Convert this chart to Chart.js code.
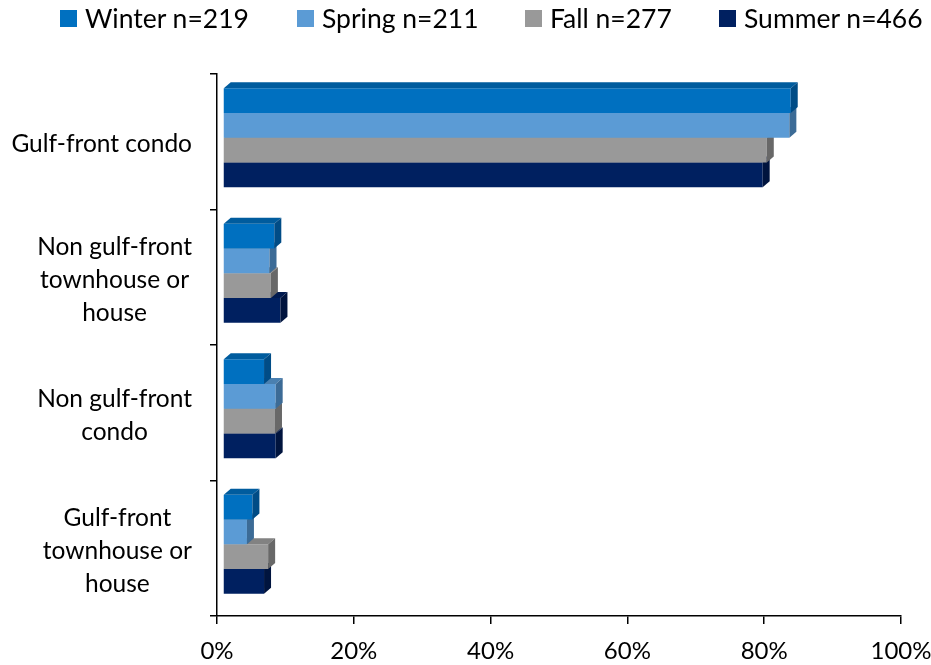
<!DOCTYPE html>
<html>
<head>
<meta charset="utf-8">
<script src="https://cdn.jsdelivr.net/npm/chart.js@4"></script>
<style>
  html, body { margin: 0; padding: 0; background: #fff; }
  #wrap { position: relative; width: 931px; height: 665px; }
  #legend { position: absolute; left: 0; top: 0; width: 931px; height: 40px; font-family: Lato, sans-serif; font-size: 26.5px; color: #000; }
  .item { position: absolute; top: 3px; height: 30px; display: flex; align-items: center; white-space: nowrap; }
  .sw { width: 17px; height: 17px; margin-right: 8px; flex: none; }
</style>
</head>
<body>
<div id="wrap">
  <canvas id="c" width="931" height="665"></canvas>
  <div id="legend"></div>
</div>
<script>
// ---- data ----
const categories = [
  ["Gulf-front condo"],
  ["Non gulf-front", "townhouse or", "house"],
  ["Non gulf-front", "condo"],
  ["Gulf-front", "townhouse or", "house"]
];
const seriesNames = ["Winter n=219", "Spring n=211", "Fall n=277", "Summer n=466"];
const winter = [83.0, 7.5, 6.0, 4.3];
const spring = [82.8, 6.8, 7.7, 3.5];
const fall   = [79.5, 7.0, 7.6, 6.6];
const summer = [78.9, 8.4, 7.7, 6.0];
const xTickValues = [0, 20, 40, 60, 80, 100];

// ---- styles ----
const frontColors = ["#0070C0", "#5B9BD5", "#999999", "#002060"];
const topColors   = ["#005C9E", "#4A80B0", "#828282", "#001A50"];
const sideColors  = ["#004C86", "#3C6B96", "#686868", "#00143E"];
const legendLefts = [60, 297, 525, 719];
const FONT = "Lato, sans-serif";

const seriesValues = [winter, spring, fall, summer];

// legend (HTML)
const lg = document.getElementById('legend');
seriesNames.forEach((name, i) => {
  const it = document.createElement('div');
  it.className = 'item';
  it.style.left = legendLefts[i] + 'px';
  const sw = document.createElement('span');
  sw.className = 'sw';
  sw.style.background = frontColors[i];
  const tx = document.createElement('span');
  tx.textContent = name;
  it.appendChild(sw); it.appendChild(tx);
  lg.appendChild(it);
});

const DX = 7, DY = 6;
const bar3d = {
  id: 'bar3d',
  beforeDatasetsDraw(chart) { chart.ctx.save(); chart.ctx.translate(6, -4); },
  afterDatasetsDraw(chart) { chart.ctx.restore(); },
  afterDatasetDraw(chart, args) {
    const ctx = chart.ctx;
    const ds = chart.data.datasets[args.index];
    args.meta.data.forEach(el => {
      const p = el.getProps(['x', 'y', 'base', 'height'], true);
      const top = p.y - p.height / 2, bot = p.y + p.height / 2;
      ctx.fillStyle = ds.topColor;
      ctx.beginPath();
      ctx.moveTo(p.base, top); ctx.lineTo(p.base + DX, top - DY);
      ctx.lineTo(p.x + DX, top - DY); ctx.lineTo(p.x, top); ctx.closePath(); ctx.fill();
      ctx.fillStyle = ds.sideColor;
      ctx.beginPath();
      ctx.moveTo(p.x, top); ctx.lineTo(p.x + DX, top - DY);
      ctx.lineTo(p.x + DX, bot - DY); ctx.lineTo(p.x, bot); ctx.closePath(); ctx.fill();
    });
  }
};

const yLabels = {
  id: 'yLabels',
  afterDraw(chart) {
    const ctx = chart.ctx;
    const s = chart.scales.y;
    ctx.save();
    ctx.font = '24.5px ' + FONT;
    ctx.fillStyle = '#000';
    ctx.textAlign = 'center';
    ctx.textBaseline = 'middle';
    categories.forEach((lines, i) => {
      const yc = s.getPixelForValue(i) + 2.5;
      const w = Math.max(...lines.map(l => ctx.measureText(l).width));
      const cx = s.right - 25 - w / 2;
      lines.forEach((l, j) => ctx.fillText(l, cx, yc + (j - (lines.length - 1) / 2) * 33));
    });
    ctx.restore();
  }
};

new Chart(document.getElementById('c'), {
  type: 'bar',
  data: {
    labels: categories,
    datasets: seriesNames.map((n, i) => ({
      label: n,
      data: seriesValues[i],
      backgroundColor: frontColors[i],
      topColor: topColors[i],
      sideColor: sideColors[i],
      borderWidth: 0,
      clip: false,
      categoryPercentage: 0.73,
      barPercentage: 1.0
    }))
  },
  options: {
    indexAxis: 'y',
    responsive: false,
    animation: false,
    devicePixelRatio: 1,
    layout: { padding: { top: 74, right: 30, left: 0, bottom: 0 } },
    plugins: { legend: { display: false }, tooltip: { enabled: false } },
    scales: {
      y: {
        ticks: { display: false },
        grid: { drawOnChartArea: false, drawTicks: true, tickLength: 7, color: '#000', lineWidth: 1.5 },
        border: { color: '#000', width: 1.5 },
        afterFit: s => { s.width = 217; s.paddingTop = 0; s.paddingBottom = 0; }
      },
      x: {
        min: 0, max: 100,
        afterBuildTicks: s => { s.ticks = xTickValues.map(v => ({ value: v })); },
        ticks: { callback: v => v + '%', font: { family: FONT, size: 24 }, color: '#000', padding: 13, maxRotation: 0, autoSkip: false },
        grid: { drawOnChartArea: false, tickLength: 8, color: '#000', lineWidth: 1.5 },
        border: { color: '#000', width: 1.5 },
        afterFit: s => { s.height = 49; s.paddingLeft = 0; s.paddingRight = 0; }
      }
    }
  },
  plugins: [bar3d, yLabels]
});
</script>
</body>
</html>
